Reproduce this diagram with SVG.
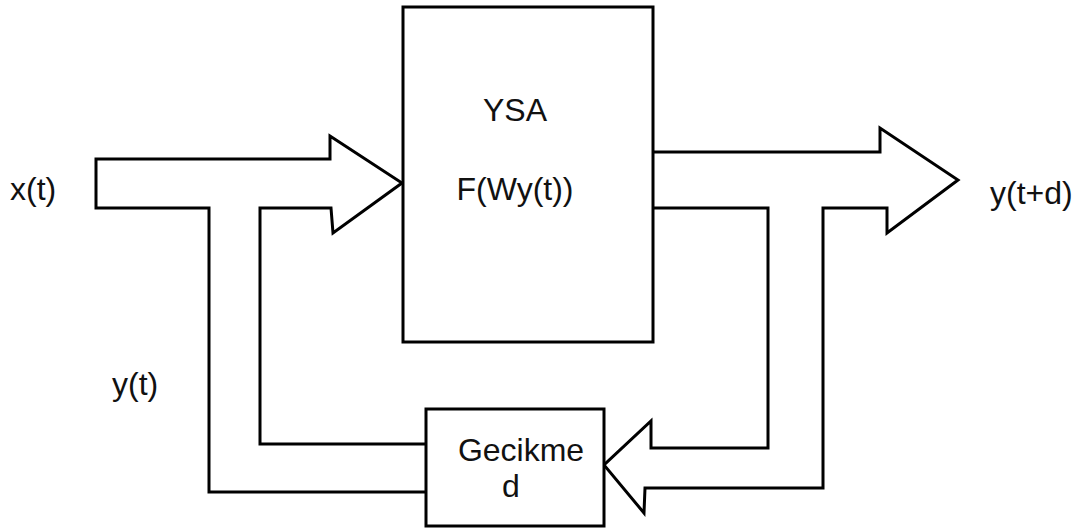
<svg xmlns="http://www.w3.org/2000/svg" width="1082" height="528" viewBox="0 0 1082 528">
<style>
.ln{fill:none;stroke:#000;stroke-width:3;stroke-linejoin:miter}
.bx{fill:#fff;stroke:#000;stroke-width:3}
text{font-family:"Liberation Sans",Arial,sans-serif;font-size:32px;fill:#111}
</style>
<rect width="1082" height="528" fill="#fff"/>
<g id="connectors">
<path class="ln" d="M426,492 L209,492 L209,208 L96,208 L96,159 L330,159 L330,136 L402,183 L333,233 L331,208 L260,208 L260,444 L426,444"/>
<path class="ln" d="M653,152 L880,152 L880,128 L958,180 L887,233 L887,208 L823,208 L823,488 L645,488 L644,513 L604,465 L651,421 L651,448 L768,448 L768,208 L653,208"/>
</g>
<g id="ysa">
<rect class="bx" x="403" y="7" width="250" height="335"/>
<text x="515" y="121" text-anchor="middle">YSA</text>
<text x="515" y="200" text-anchor="middle">F(Wy(t))</text>
</g>
<g id="gecikme">
<rect class="bx" x="426" y="409" width="178" height="117"/>
<text x="521" y="461" text-anchor="middle">Gecikme</text>
<text x="511" y="497" text-anchor="middle">d</text>
</g>
<g id="labels">
<text x="10" y="200">x(t)</text>
<text x="990" y="204">y(t+d)</text>
<text x="112" y="395">y(t)</text>
</g>
</svg>
